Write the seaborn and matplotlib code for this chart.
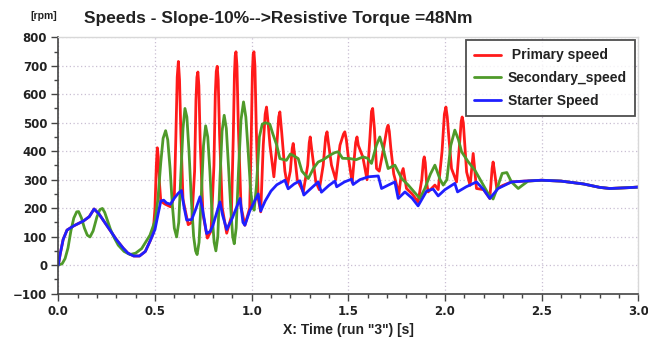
import pandas as pd
import matplotlib.pyplot as plt
import seaborn as sns
from matplotlib.ticker import MultipleLocator

sns.set_theme(style="white")
plt.rcParams['font.family'] = ['Liberation Sans', 'DejaVu Sans']

# ======================================
# Data
# ======================================
# Starter speed (blue)
t_starter = [0.0, 0.01, 0.025, 0.045, 0.08, 0.13, 0.16, 0.185, 0.21, 0.24, 0.27, 0.30, 0.335, 0.36, 0.39, 0.42,
             0.45, 0.475, 0.50, 0.515, 0.53, 0.545, 0.56, 0.58, 0.60, 0.62, 0.637, 0.65, 0.664, 0.69, 0.71, 0.733,
             0.745, 0.767, 0.785, 0.80, 0.836, 0.85, 0.871, 0.90, 0.94, 0.955, 0.965, 0.99, 1.034, 1.047, 1.07,
             1.10, 1.13, 1.172, 1.189, 1.22, 1.25, 1.27, 1.30, 1.344, 1.361, 1.40, 1.431, 1.44, 1.48, 1.517,
             1.525, 1.56, 1.603, 1.655, 1.672, 1.71, 1.741, 1.758, 1.793, 1.83, 1.861, 1.905, 1.939, 1.965, 2.00,
             2.051, 2.065, 2.11, 2.163, 2.20, 2.232, 2.275, 2.344, 2.413, 2.5, 2.6, 2.716, 2.8, 2.853, 2.95, 3.0]
v_starter = [0, 40, 90, 123, 138, 155, 170, 197, 180, 150, 120, 90, 60, 42, 32, 32,
             48, 85, 125, 175, 225, 228, 218, 214, 235, 252, 262, 205, 158, 160, 195, 240,
             200, 111, 118, 140, 222, 175, 125, 165, 234, 150, 140, 190, 250, 190, 225,
             260, 282, 298, 268, 285, 296, 246, 265, 292, 256, 280, 295, 275, 292, 302,
             283, 300, 310, 313, 269, 282, 292, 234, 257, 235, 208, 260, 267, 243, 265,
             287, 257, 275, 292, 265, 234, 269, 292, 295, 298, 295, 285, 273, 269, 272, 274]

# Secondary speed (green)
t_secondary = [0.0, 0.02, 0.035, 0.05, 0.065, 0.08, 0.095, 0.105, 0.12, 0.135, 0.15, 0.164, 0.18, 0.20, 0.215,
               0.228, 0.24, 0.255, 0.27, 0.29, 0.31, 0.34, 0.371, 0.40, 0.431, 0.474, 0.50, 0.515, 0.53, 0.542,
               0.555, 0.566, 0.578, 0.59, 0.60, 0.612, 0.623, 0.634, 0.645, 0.655, 0.665, 0.676, 0.688, 0.70,
               0.71, 0.718, 0.728, 0.74, 0.751, 0.762, 0.773, 0.784, 0.795, 0.806, 0.815, 0.825, 0.836, 0.847,
               0.858, 0.869, 0.88, 0.892, 0.902, 0.91, 0.92, 0.932, 0.945, 0.958, 0.97, 0.982, 0.995, 1.005,
               1.013, 1.025, 1.04, 1.055, 1.07, 1.094, 1.11, 1.13, 1.146, 1.18, 1.20, 1.215, 1.241, 1.26, 1.293,
               1.32, 1.344, 1.37, 1.405, 1.43, 1.448, 1.47, 1.51, 1.54, 1.577, 1.60, 1.62, 1.645, 1.663, 1.68,
               1.706, 1.741, 1.776, 1.81, 1.87, 1.896, 1.925, 1.948, 1.975, 1.991, 2.01, 2.03, 2.051, 2.07, 2.086,
               2.12, 2.155, 2.189, 2.22, 2.249, 2.27, 2.296, 2.32, 2.344, 2.379, 2.40, 2.43, 2.5, 2.6, 2.716, 2.8,
               2.853, 2.95, 3.0]
v_secondary = [0, 5, 23, 60, 120, 165, 187, 188, 165, 130, 105, 99, 120, 170, 195,
               199, 185, 155, 125, 95, 70, 48, 37, 42, 58, 105, 155, 230, 360, 445,
               472, 440, 340, 210, 130, 99, 150, 320, 480, 550, 520, 400, 230, 100,
               50, 37, 80, 250, 420, 489, 450, 330, 180, 80, 50, 100, 300, 470,
               526, 480, 350, 200, 100, 75, 130, 330, 510, 573, 520, 400, 260, 205,
               193, 280, 450, 495, 500, 495, 460, 421, 374, 368, 390, 385, 374, 330, 304,
               340, 362, 370, 386, 395, 398, 375, 374, 370, 380, 375, 357, 420, 450, 410,
               339, 351, 304, 281, 234, 269, 320, 351, 300, 281, 300, 420, 474, 440, 398,
               363, 333, 292, 255, 232, 270, 322, 325, 292, 269, 280, 295, 298, 295, 285, 273,
               269, 272, 274]

# Primary speed (red)
t_primary = [0.0, 0.01, 0.025, 0.045, 0.08, 0.13, 0.16, 0.185, 0.21, 0.24, 0.27, 0.30, 0.335, 0.36, 0.39, 0.42,
             0.45, 0.475, 0.49, 0.50, 0.507, 0.512, 0.517, 0.523, 0.53, 0.55, 0.58, 0.60, 0.608, 0.615, 0.621,
             0.627, 0.634, 0.645, 0.672, 0.69, 0.705, 0.712, 0.717, 0.722, 0.727, 0.734, 0.748, 0.771, 0.79,
             0.805, 0.812, 0.817, 0.822, 0.827, 0.834, 0.848, 0.871, 0.895, 0.905, 0.911, 0.915, 0.919, 0.924,
             0.931, 0.945, 0.965, 0.99, 0.998, 1.004, 1.008, 1.012, 1.017, 1.024, 1.034, 1.047, 1.06, 1.07,
             1.077, 1.085, 1.095, 1.115, 1.13, 1.14, 1.146, 1.155, 1.172, 1.185, 1.20, 1.21, 1.215, 1.222, 1.236,
             1.267, 1.29, 1.298, 1.303, 1.31, 1.332, 1.35, 1.37, 1.383, 1.39, 1.397, 1.413, 1.435, 1.457, 1.475,
             1.482, 1.49, 1.50, 1.52, 1.538, 1.545, 1.552, 1.575, 1.597, 1.612, 1.62, 1.626, 1.635, 1.646, 1.66,
             1.68, 1.70, 1.706, 1.712, 1.72, 1.735, 1.762, 1.774, 1.784, 1.801, 1.83, 1.861, 1.88, 1.889, 1.893,
             1.898, 1.905, 1.913, 1.948, 1.965, 1.985, 1.997, 2.005, 2.012, 2.02, 2.034, 2.06, 2.075, 2.084,
             2.089, 2.095, 2.10, 2.112, 2.13, 2.146, 2.163, 2.20, 2.232, 2.244, 2.249, 2.254, 2.268, 2.30,
             2.344, 2.413, 2.5, 2.6, 2.716, 2.8, 2.853, 2.95, 3.0]
v_primary = [0, 40, 90, 123, 138, 155, 170, 197, 180, 150, 120, 90, 60, 42, 32, 32,
             48, 85, 110, 200, 350, 412, 380, 290, 225, 215, 205, 240, 450, 660, 715,
             650, 460, 230, 142, 150, 330, 580, 660, 678, 630, 430, 180, 95, 120,
             350, 600, 680, 698, 650, 460, 200, 112, 170, 450, 670, 735, 749, 700,
             490, 205, 140, 200, 450, 680, 740, 749, 700, 480, 234, 187, 420, 530,
             555, 500, 420, 310, 420, 520, 538, 470, 330, 280, 330, 410, 427, 390, 300,
             257, 350, 430, 450, 410, 292, 265, 350, 450, 468, 430, 351, 300, 421, 460,
             468, 440, 380, 290, 430, 450, 420, 380, 300, 450, 540, 550, 480, 339, 330,
             400, 480, 491, 470, 410, 320, 250, 320, 339, 269, 250, 222, 300, 370, 380,
             360, 290, 257, 281, 265, 400, 530, 555, 520, 450, 339, 292, 420, 505,
             520, 500, 450, 327, 280, 392, 269, 265, 234, 340, 362, 340, 269, 280,
             292, 295, 298, 295, 285, 273, 269, 272, 274]

series_names = [" Primary speed", "Secondary_speed", "Starter Speed"]
series_colors = ["#ff1a1a", "#4f9a2a", "#1f1fff"]

df = pd.concat([
    pd.DataFrame({"Time": t_primary, "Speed": v_primary, "Series": series_names[0]}),
    pd.DataFrame({"Time": t_secondary, "Speed": v_secondary, "Series": series_names[1]}),
    pd.DataFrame({"Time": t_starter, "Speed": v_starter, "Series": series_names[2]}),
], ignore_index=True)

# ======================================
# Plot
# ======================================
fig = plt.figure(figsize=(6.48, 3.45), dpi=100)
ax = fig.add_axes([0.09, 0.149, 0.895, 0.743])

sns.lineplot(data=df, x="Time", y="Speed", hue="Series", hue_order=series_names,
             palette=series_colors, estimator=None, sort=False, linewidth=2.0, ax=ax)

ax.set_xlim(0, 3)
ax.set_ylim(-100, 800)
ax.xaxis.set_major_locator(MultipleLocator(0.5))
ax.xaxis.set_minor_locator(MultipleLocator(0.1))
ax.yaxis.set_major_locator(MultipleLocator(100))
ax.yaxis.set_minor_locator(MultipleLocator(50))
ax.xaxis.set_major_formatter(plt.FuncFormatter(lambda v, p: f"{v:.1f}"))

ax.grid(True, which="major", color="#c9bfd3", linestyle=(0, (1, 2)), linewidth=0.9)
ax.tick_params(axis="both", which="major", direction="out", length=5, width=1, color="#444444",
               labelsize=8.5, pad=3, bottom=True, left=True)
ax.tick_params(axis="both", which="minor", direction="out", length=3, width=1, color="#444444",
               bottom=True, left=True)
for lbl in ax.get_xticklabels() + ax.get_yticklabels():
    lbl.set_fontweight("bold")
    lbl.set_fontfamily("DejaVu Sans")
    lbl.set_color("#222222")

for side in ["left", "bottom"]:
    ax.spines[side].set_color("#444444")
    ax.spines[side].set_linewidth(1.2)
for side in ["top", "right"]:
    ax.spines[side].set_color("#d8d8d8")
    ax.spines[side].set_linewidth(1.0)

ax.set_xlabel('X: Time (run "3") [s]', fontsize=10, fontweight="bold", color="#222222", labelpad=4)
ax.set_ylabel("")

leg = ax.legend(loc="upper right", bbox_to_anchor=(0.9943, 0.989), borderaxespad=0, frameon=True,
                fancybox=False, fontsize=10, handlelength=1.9, handletextpad=0.5, borderpad=0.6,
                labelspacing=0.62)
leg.get_frame().set_edgecolor("#222222")
leg.get_frame().set_linewidth(1.3)
for txt in leg.get_texts():
    txt.set_fontweight("bold")
    txt.set_color("#222222")

fig.text(0.43, 0.945, "Speeds - Slope-10%-->Resistive Torque =48Nm", ha="center", va="center",
         fontsize=12.5, fontweight="bold", color="#222222")
fig.text(0.068, 0.955, "[rpm]", ha="center", va="center", fontsize=7.5, fontweight="bold", color="#222222")

fig.savefig("out.png", dpi=100)
